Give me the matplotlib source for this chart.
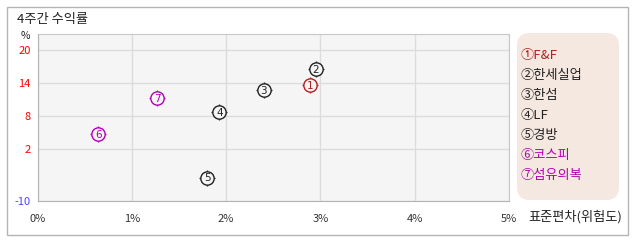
import matplotlib.pyplot as plt
import numpy as np
from matplotlib.patches import FancyBboxPatch, Rectangle

plt.rcParams['font.family'] = ['Noto Sans CJK KR', 'DejaVu Sans']

# data
names = ['F&F', '한세실업', '한섬', 'LF', '경방', '코스피', '섬유의복']
marks = ['1', '2', '3', '4', '5', '6', '7']
circled = ['①', '②', '③', '④', '⑤', '⑥', '⑦']
risk = [2.89, 2.95, 2.40, 1.93, 1.80, 0.645, 1.27]      # std dev, %
ret4w = [13.6, 16.5, 12.8, 8.7, -4.6, 4.8, 11.3]       # 4-week return, %
colors = ['#b41e1e', '#222222', '#222222', '#222222', '#222222', '#b400b4', '#b400b4']
yticks = [-10, 2, 8, 14, 20]
ytick_colors = ['#4646ff', 'red', 'red', 'red', 'red']
xticks = [0, 1, 2, 3, 4, 5]

# y axis is squeezed below 2
r = 0.78
def fwd(y):
    y = np.asarray(y, dtype=float)
    return np.where(y >= 2, y, 2 + (y - 2) * r)
def inv(y):
    y = np.asarray(y, dtype=float)
    return np.where(y >= 2, y, 2 + (y - 2) / r)

W, H = 638, 242
fig = plt.figure(figsize=(W / 100, H / 100), dpi=100)
fig.patches.append(Rectangle((6.5 / W, 1 - 235 / H), 621 / W, 228 / H, transform=fig.transFigure,
                             facecolor='white', edgecolor='#b4b4b4', lw=1, zorder=-5))

ax = fig.add_axes([37.5 / W, (H - 201) / H, 471.5 / W, 167 / H])
ax.set_facecolor('#f5f5f5')
ax.set_yscale('function', functions=(fwd, inv))
ax.set_xlim(0, 5)
ax.set_ylim(-10, 22.9)
ax.set_xticks(xticks)
ax.set_xticklabels(['%d%%' % v for v in xticks], fontsize=8, color='#333333')
ax.set_yticks(yticks)
ax.set_yticklabels([str(v) for v in yticks], fontsize=8)
for lab, c in zip(ax.get_yticklabels(), ytick_colors):
    lab.set_color(c)
ax.yaxis.set_minor_locator(plt.NullLocator())
ax.tick_params(length=0, pad=5)
ax.tick_params(axis='x', pad=9)
ax.grid(True, color='#dcdcdc', lw=1)
ax.set_axisbelow(True)
for s in ax.spines.values():
    s.set_color('#c8c8c8')
ax.spines['left'].set_color('#b4b4b4')
ax.spines['bottom'].set_color('#b4b4b4')

for x, y, m, c in zip(risk, ret4w, marks, colors):
    ax.plot(x, y, marker='+', ms=12.2, mew=0.9, color=c, zorder=3)
    ax.plot(x, y, marker='o', ms=9.6, mfc='#f5f5f5', mec=c, mew=1.0, zorder=4)
    ax.text(x, y - 0.15, m, color=c, fontsize=7.5, ha='center', va='center', zorder=5,
            family='DejaVu Sans')

fig.text(17 / W, 1 - 20 / H, '4주간 수익률', fontsize=9.5, color='#222222', va='center')
fig.text(25 / W, 1 - 36 / H, '%', fontsize=7.5, color='#222222', va='center', ha='center')
fig.text(528 / W, 1 - 217 / H, '표준편차(위험도)', fontsize=9.5, color='#222222', va='center')

# legend panel
fig.patches.append(FancyBboxPatch((517 / W, 1 - 200 / H), 102 / W, 167 / H,
                                  boxstyle='round,pad=0,rounding_size=0.02',
                                  transform=fig.transFigure, facecolor='#f5e8e0',
                                  edgecolor='none', mutation_aspect=W / H))
for i, (n, cm, c) in enumerate(zip(names, circled, colors)):
    fig.text(521 / W, 1 - (55 + 20 * i) / H, cm + n, fontsize=9.5, color=c, va='center')

fig.savefig('out.png', dpi=100)
